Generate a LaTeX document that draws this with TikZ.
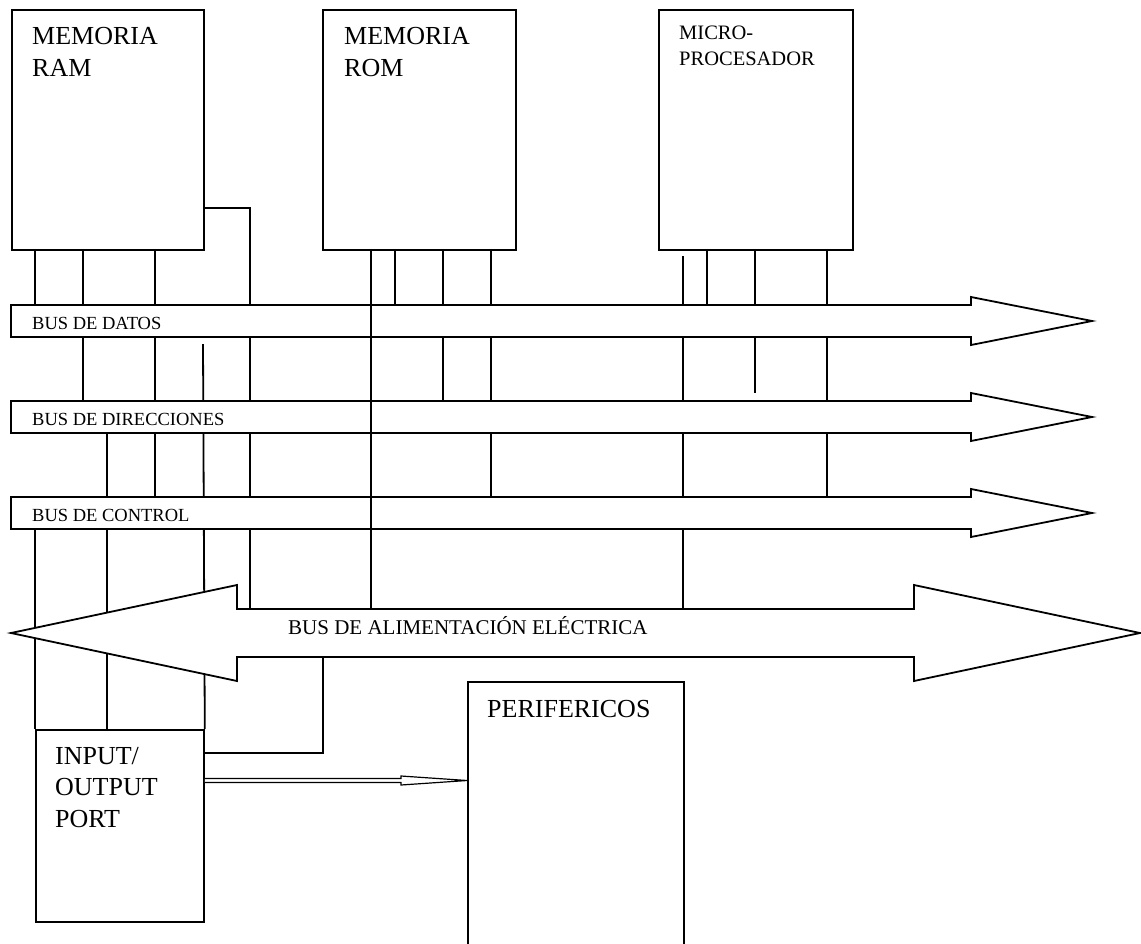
\documentclass[tikz,border=0pt]{standalone}
\usepackage{fontspec}
\setmainfont{Liberation Serif}
\tikzset{
  unit/.style={draw,line width=1.8pt,fill=white,inner sep=0pt,anchor=north west},
  bus/.style={draw,line width=1.8pt,fill=white,line join=miter},
  wire/.style={line width=1.8pt},
  lbl/.style={inner sep=0pt,anchor=base west,align=left},
  big/.style={font=\fontsize{26}{32}\selectfont},
  mid/.style={font=\fontsize{20.5}{26}\selectfont},
  small/.style={font=\fontsize{18.5}{22}\selectfont},
}
\begin{document}
\begin{tikzpicture}[x=1pt,y=-1pt]
\useasboundingbox (0,0) rectangle (1141,943);
\clip (0,0) rectangle (1141,943);
% units
\node[unit,minimum width=192,minimum height=240] (ram) at (11,9) {};
\node[unit,minimum width=193,minimum height=240] (rom) at (322,9) {};
\node[unit,minimum width=194,minimum height=240] (cpu) at (658,9) {};
\node[unit,minimum width=168,minimum height=192] (io) at (35,729) {};
\node[unit,minimum width=216,minimum height=300] (per) at (467,681) {};
% base is the last line
\node[lbl,big] (ramtxt) at (32,76) {MEMORIA\\RAM};
\node[lbl,big] (romtxt) at (344,76) {MEMORIA\\ROM};
\node[lbl,mid] (cputxt) at (679,65) {MICRO-\\PROCESADOR};
\node[lbl,big,font=\fontsize{26}{31.5}\selectfont] (iotxt) at (55,827) {INPUT/\\OUTPUT\\PORT};
\node[lbl,big] (pertxt) at (487,717) {PERIFERICOS};
% bus edges
\coordinate (datN) at (11,305); \coordinate (datS) at (11,337);
\coordinate (dirN) at (11,401); \coordinate (dirS) at (11,433);
\coordinate (ctlN) at (11,497); \coordinate (ctlS) at (11,529);
\coordinate (powN) at (237,609); \coordinate (powS) at (237,657);
% wires
\draw[wire] (ram.south -| 35,0) -- (datN -| 35,0);
\draw[wire] (ram.south -| 83,0) -- (dirN -| 83,0);
\draw[wire] (ram.south -| 155,0) -- (ctlN -| 155,0);
\draw[wire] (ram.east |- 0,208) -| (powN -| 250,0);
\draw[wire] (203,344) -- (io.north east);
\draw[wire] (ctlS -| 35,0) -- (io.north west);
\draw[wire] (dirS -| 107,0) -- (io.north -| 107,0);
\draw[wire] (rom.south -| 395,0) -- (datN -| 395,0);
\draw[wire] (rom.south -| 443,0) -- (dirN -| 443,0);
\draw[wire] (rom.south -| 491,0) -- (ctlN -| 491,0);
\draw[wire] (683,256) -- (powN -| 683,0);
\foreach \x in {707,755}
  \draw[wire] (cpu.south -| \x,0) -- (datN -| \x,0);
\draw[wire] (datS -| 755,0) -- (755,393);
\draw[wire] (cpu.south -| 827,0) -- (ctlN -| 827,0);
% buses
\foreach \y/\n/\t in {305/datos/BUS DE DATOS,401/dir/BUS DE DIRECCIONES,497/ctl/BUS DE CONTROL}{
  \draw[bus] (11,\y) -- (971,\y) -- (971,\y-8) -- (1092,\y+16) -- (971,\y+40) -- (971,\y+32) -- (11,\y+32) -- cycle;
  \node[lbl,small] (\n) at (32,\y+24.5) {\t};
}
\draw[bus] (11,633) -- (237,585) -- (237,609) -- (914,609) -- (914,585) -- (1140,633)
  -- (914,681) -- (914,657) -- (237,657) -- (237,681) -- cycle;
\node[lbl,font=\fontsize{21}{25}\selectfont] (pow) at (288,634) {BUS DE ALIMENTACIÓN ELÉCTRICA};
\draw[wire] (rom.south -| 371,0) -- (powN -| 371,0);
% port links
\draw[wire] (powS -| 323,0) |- (io.east |- 0,753);
\draw[line width=1.2pt,fill=white] (io.east |- 0,778.5) -- (401,778.5) -- (401,776) -- (per.west |- 0,780.5)
  -- (401,785) -- (401,782.5) -- (io.east |- 0,782.5);
\end{tikzpicture}
\end{document}
